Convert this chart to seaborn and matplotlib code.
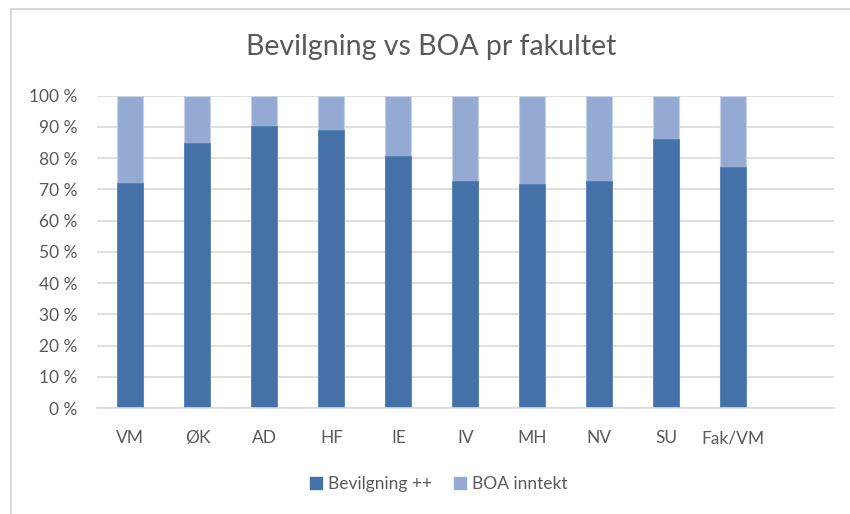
import matplotlib
matplotlib.use("Agg")
import matplotlib.pyplot as plt
import seaborn as sns
import pandas as pd
from matplotlib.patches import Patch
from matplotlib.ticker import FuncFormatter

categories = ["VM", "ØK", "AD", "HF", "IE", "IV", "MH", "NV", "SU", "Fak/VM"]
bevilgning = [71.9, 84.7, 90.4, 89.0, 80.7, 72.8, 71.7, 72.8, 86.1, 77.0]
boa = [100 - b for b in bevilgning]
yticks = list(range(0, 101, 10))

DARK = "#4472A8"
LIGHT = "#95AAD2"
TXT = "#595959"
GRID = "#D9D9D9"

sns.set_theme(style="white")
plt.rcParams["font.family"] = ["Lato", "DejaVu Sans"]

df = pd.DataFrame({"kat": categories, "bev": bevilgning,
                   "tot": [b + o for b, o in zip(bevilgning, boa)]})

fig = plt.figure(figsize=(8.5, 5.14), dpi=100)
ax = fig.add_axes([0.114, 0.206, 0.867, 0.608])

sns.barplot(data=df, x="kat", y="tot", order=categories, color=LIGHT,
            width=0.39, saturation=1, ax=ax, edgecolor="#C5D1E8", linewidth=0.8)
sns.barplot(data=df, x="kat", y="bev", order=categories, color=DARK,
            width=0.39, saturation=1, ax=ax, edgecolor="#5A82B4", linewidth=0.6)

ax.set_xlim(-0.5, 10.5)
ax.set_ylim(0, 100)
ax.set_yticks(yticks)
ax.yaxis.set_major_formatter(FuncFormatter(lambda v, p: f"{int(v)} %"))
ax.grid(axis="y", color=GRID, linewidth=1.2)
ax.set_axisbelow(True)
for s in ["top", "right", "left"]:
    ax.spines[s].set_visible(False)
ax.spines["bottom"].set_color(GRID)
ax.spines["bottom"].set_linewidth(1.2)
ax.tick_params(axis="both", length=0, labelsize=12.5, colors=TXT)
ax.tick_params(axis="x", pad=16)
ax.tick_params(axis="y", pad=14)
ax.set_xlabel("")
ax.set_ylabel("")

fig.text(0.507, 0.908, "Bevilgning vs BOA pr fakultet", ha="center", va="center",
         fontsize=20.5, color=TXT)

handles = [Patch(facecolor=DARK, edgecolor=DARK), Patch(facecolor=LIGHT, edgecolor=LIGHT)]
fig.legend(handles, ["Bevilgning ++", "BOA inntekt"], loc="center",
           bbox_to_anchor=(0.516, 0.058), ncol=2, frameon=False, fontsize=12.5,
           labelcolor=TXT, handlelength=0.7, handleheight=0.7, handletextpad=0.3,
           columnspacing=1.3)

# chart border (left and top)
fig.add_artist(plt.Line2D([0.0125, 0.0125], [0, 0.983], transform=fig.transFigure,
                          color="#D9D9D9", linewidth=1.5))
fig.add_artist(plt.Line2D([0.0125, 1.0], [0.983, 0.983], transform=fig.transFigure,
                          color="#D9D9D9", linewidth=1.5))

fig.savefig("out.png", dpi=100)
